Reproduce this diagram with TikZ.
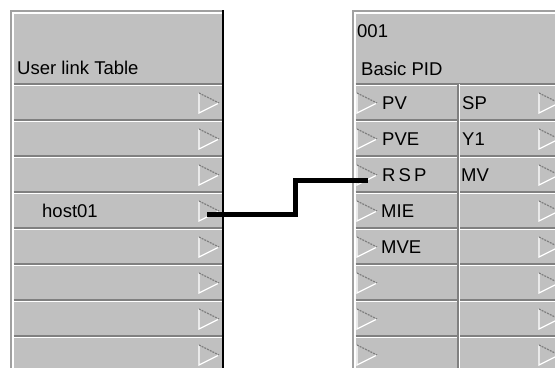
\documentclass[tikz,border=0pt]{standalone}
\usepackage{fontspec}
\setmainfont{Liberation Sans}
\definecolor{panel}{HTML}{C0C0C0}
\definecolor{shadow}{HTML}{808080}
\definecolor{edge}{HTML}{A0A0A0}
\newcommand{\porttri}[3]{%
  \node[coordinate] (#1) at (#2,#3) {};
  \draw[white, line width=1.2] (#2,#3-10) -- (#2,#3+10) -- (#2+20,#3);
  \draw[shadow, line width=1.2, dash pattern=on 2pt off 1pt] (#2,#3-10) -- (#2+20,#3);
}
\begin{document}
\begin{tikzpicture}[x=1pt,y=-1pt,
  lbl/.style={anchor=base west, inner sep=0pt, font=\fontsize{18.5}{21}\selectfont},
  connector/.style={line width=5pt, black, line join=miter}]
\useasboundingbox (0,0) rectangle (555,368);
\fill[white] (0,0) rectangle (555,368);
% ---------- left panel ----------
\fill[panel] (10,10) rectangle (224,368);
\draw[edge, line width=1.5] (10,10.75) -- (224,10.75);
\draw[white, line width=1.5] (12,12.75) -- (222,12.75);
\draw[edge, line width=1.5] (10.75,10) -- (10.75,368);
\draw[white, line width=1.5] (12.75,12) -- (12.75,368);
\foreach \i in {0,...,7} {
  \draw[shadow, line width=2] (13.5,84+36*\i) -- (222,84+36*\i);
  \draw[white, line width=1.2] (13.5,85.6+36*\i) -- (222,85.6+36*\i);
}
\draw[black, line width=2.5] (223,10) -- (223,368);
\foreach \i in {0,...,7} {
  \porttri{L\i}{199}{103+36*\i}
}
\node[lbl] (ultitle) at (17,74) {User link Table};
\node[lbl] (host) at (42,217) {host01};
% ---------- right panel ----------
\fill[panel] (352,10) rectangle (555,368);
\draw[edge, line width=1.5] (352,10.75) -- (555,10.75);
\draw[white, line width=1.5] (354,12.75) -- (555,12.75);
\draw[edge, line width=1.5] (352.75,10) -- (352.75,368);
\draw[white, line width=1.5] (354.75,12) -- (354.75,368);
\foreach \i in {0,...,7} {
  \draw[shadow, line width=2] (355.5,84+36*\i) -- (555,84+36*\i);
  \draw[white, line width=1.2] (355.5,85.6+36*\i) -- (555,85.6+36*\i);
}
\draw[shadow, line width=1.5] (457.75,84) -- (457.75,368);
\draw[white, line width=1.2] (459.6,84) -- (459.6,368);
\foreach \i in {0,...,7} {
  \porttri{RA\i}{357}{103+36*\i}
  \porttri{RB\i}{539}{103+36*\i}
}
\node[lbl] (blockid) at (357,37) {001};
\node[lbl] (blockname) at (361,75) {Basic PID};
\node[lbl] (pv) at (382,109) {PV};
\node[lbl] (pve) at (382,145) {PVE};
\node[lbl] (rsp) at (382,181) {R\,S\,P};
\node[lbl] (mie) at (381,217) {MIE};
\node[lbl] (mve) at (381,253) {MVE};
\node[lbl] (sp) at (462,109) {SP};
\node[lbl] (yone) at (462,145) {Y1};
\node[lbl] (mv) at (461,181) {MV};
% ---------- connector ----------
\coordinate (hostport) at (207,214);
\coordinate (rspport) at (368,180);
\coordinate (bendx) at (295,0);
\draw[connector] (hostport) -- (hostport -| bendx) -- (rspport -| bendx) -- (rspport);
\end{tikzpicture}
\end{document}
